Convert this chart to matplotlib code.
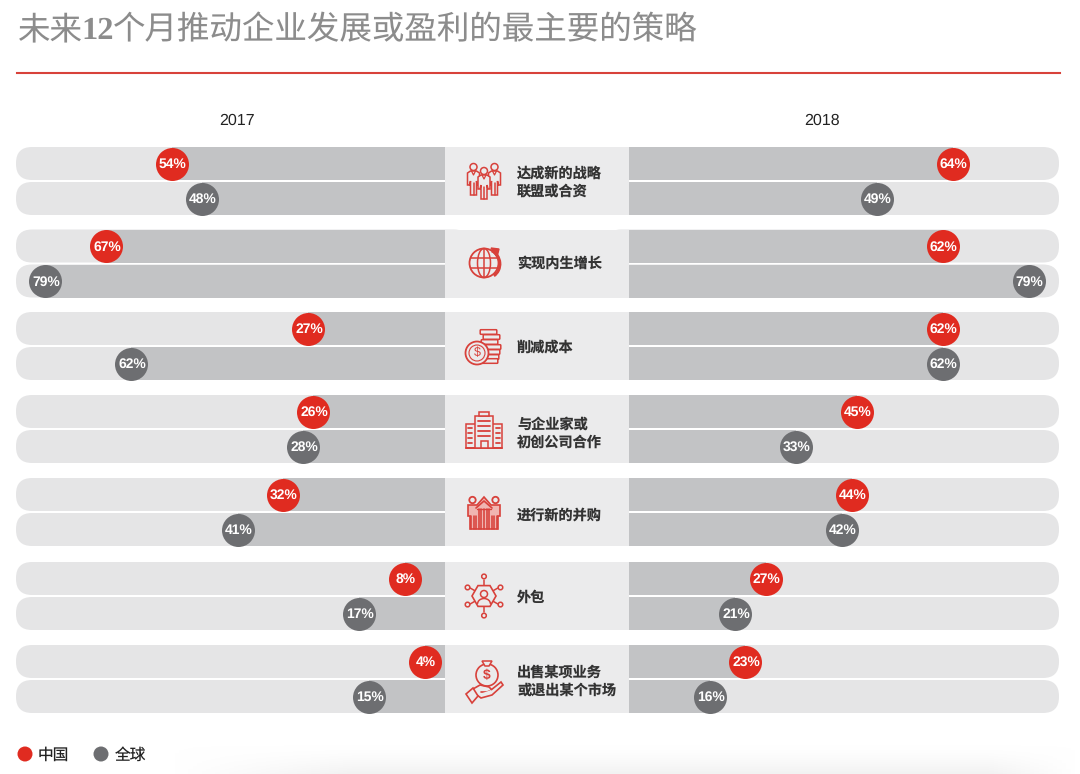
import numpy as np
import matplotlib
matplotlib.use('Agg')
import matplotlib.pyplot as plt
from matplotlib.patches import Circle, Ellipse, Arc, FancyBboxPatch, Polygon, Rectangle

plt.rcParams['font.family'] = ['Liberation Sans', 'Noto Sans CJK SC']
plt.rcParams['text.hinting'] = 'no_hinting'

# Dane
strategies = ['达成新的战略\n联盟或合资', '实现内生增长', '削减成本', '与企业家或\n初创公司合作',
              '进行新的并购', '外包', '出售某项业务\n或退出某个市场']
china_2017 = [54, 67, 27, 26, 32, 8, 4]
global_2017 = [48, 79, 62, 28, 41, 17, 15]
china_2018 = [64, 62, 62, 45, 44, 27, 23]
global_2018 = [49, 79, 62, 33, 42, 21, 16]

RED = '#e02b20'
GREY = '#6d6e71'
TRACK = '#e5e5e6'
BAR = '#c2c3c5'
PANEL = '#ebebec'
ICON = '#d8413b'
CJK = ['Noto Sans CJK SC']

W, H = 1080, 774
PX_PER_PCT = 5.06
group_tops = [147, 229.5, 312, 395, 478, 562, 645]
icon_y = [181, 263, 347, 431, 513, 596, 680]
label_y = [182.5, 263, 347.5, 433, 515.5, 597.5, 681]
ROW_H = 33
ROW_GAP = 2

fig = plt.figure(figsize=(W / 100, H / 100), dpi=100)
bg = fig.add_axes([0, 0, 1, 1])

# Lekki cien na dole obrazka
fade_x = np.clip(np.minimum(np.linspace(0, 1, 200) * 5, np.linspace(1, 0, 200) * 10), 0, 1)
fade_y = np.linspace(0, 1, 30)[:, None] ** 1.5
shade = np.ones((30, 200, 4)) * 0.95
shade[..., 3] = fade_y * fade_x
bg.imshow(shade, extent=(170, 1080, 774, 744), aspect='auto', zorder=0)

bg.set_xlim(0, W)
bg.set_ylim(H, 0)
bg.axis('off')

# Tytul i linia
title_kw = dict(fontsize=23.4, color='#8c8c8c', va='center', ha='left')
bg.text(18, 30, '未来', family=CJK, **title_kw)
bg.text(81, 31.5, '12', family=['Liberation Serif'], fontweight='bold', **title_kw)
bg.text(113, 30, '个月推动企业发展或盈利的最主要的策略', family=CJK, **title_kw)
bg.plot([17, 1060], [73, 73], color='#d8423a', lw=1.5)
bg.text(237, 120.5, '2017', fontsize=11.5, color='#222222', ha='center', va='center')
bg.text(822, 120.5, '2018', fontsize=11.5, color='#222222', ha='center', va='center')


def track(x0, x1, y):
    # zaokraglony pasek tla
    bg.add_patch(FancyBboxPatch((x0 + 16, y + 16), x1 - x0 - 32, ROW_H - 32,
                                boxstyle='round,pad=16,rounding_size=16', fc=TRACK, ec='none', zorder=1))


for i, top in enumerate(group_tops):
    for y in (top, top + ROW_H + ROW_GAP):
        track(16, 470, y)
        track(605, 1059, y)
    bg.add_patch(Rectangle((445, top), 184, 2 * ROW_H + ROW_GAP, fc=PANEL, ec='none', zorder=2))
    bg.text(517, label_y[i], strategies[i], fontsize=10.2, fontweight='bold', color='#333333',
            ha='left', va='center', linespacing=1.3, zorder=3, family=CJK)


def panel(left, right, xlim):
    ax = fig.add_axes([left / W, 0, (right - left) / W, 1])
    ax.set_xlim(*xlim)
    ax.set_ylim(H, 0)
    ax.axis('off')
    ax.patch.set_alpha(0)
    return ax


ax_l = panel(16, 445, (429 / PX_PER_PCT, 0))
ax_r = panel(629, 1059, (0, 430 / PX_PER_PCT))

tops = np.array(group_tops)
for ax, china, world in ((ax_l, china_2017, global_2017), (ax_r, china_2018, global_2018)):
    for vals, col, yy in ((china, RED, tops), (world, GREY, tops + ROW_H + ROW_GAP)):
        ax.barh(yy + ROW_H / 2, vals, height=ROW_H, color=BAR, zorder=1)
        ax.scatter(vals, yy + ROW_H / 2, s=(33 * 0.72) ** 2, color=col, linewidths=0, zorder=2, clip_on=False)
        for v, y in zip(vals, yy + ROW_H / 2):
            ax.annotate(f'{v}%', (v, y), xytext=(0.7, -0.7), textcoords='offset points', color='white',
                        fontsize=10, fontweight='bold', ha='center', va='center', zorder=3, annotation_clip=False)


# Ikony
def line(x, y, lw=1.1):
    bg.plot(x, y, color=ICON, lw=lw, zorder=4, solid_capstyle='round', solid_joinstyle='round')


def ring(x, y, r, lw=1.1, fc='none'):
    bg.add_patch(Circle((x, y), r, fc=fc, ec=ICON, lw=lw, zorder=4))


def person(cx, cy, s=1.0, fc=PANEL):
    ring(cx, cy - 13 * s, 3.5 * s, fc=fc)
    xs = np.array([-6, -3, 3, 6, 6, 4, 3, 3, 0, -3, -3, -4, -6, -6]) * s + cx
    ys = np.array([-7, -9, -9, -7, 5, 5, 1, 15, 15, 15, 1, 5, 5, -7]) * s + cy
    bg.add_patch(Polygon(np.c_[xs, ys], closed=True, fc=fc, ec=ICON, lw=1.1, zorder=4))
    line([cx, cx], [cy + 3 * s, cy + 15 * s])
    line([cx - 2, cx, cx + 2], [cy - 9 * s, cy - 5 * s, cy - 9 * s], lw=0.9)


def icon_people(cx, cy):
    person(cx - 10.5, cy - 1, 1.0)
    person(cx + 10.5, cy - 1, 1.0)
    person(cx, cy + 3, 1.0)


def icon_globe(cx, cy):
    ring(cx, cy, 14.5, lw=1.3)
    bg.add_patch(Ellipse((cx, cy), 13, 29, fc='none', ec=ICON, lw=1.1, zorder=4))
    for dy in (-5, 5):
        line([cx - 13.5, cx + 13.5], [cy + dy, cy + dy])
    line([cx, cx], [cy - 14, cy + 14])
    bg.add_patch(Arc((cx + 3, cy + 1), 26, 28, theta1=-70, theta2=60, ec=ICON, lw=2.0, zorder=5))
    bg.add_patch(Polygon([[cx + 7, cy - 15], [cx + 15, cy - 14], [cx + 13, cy - 6]], fc=ICON, ec=ICON, zorder=5))


def icon_coins(cx, cy):
    for dx, dy in [(5, -15), (8, -10), (6, -5), (9, 0), (8, 5), (7, 10), (6, 14)]:
        bg.add_patch(FancyBboxPatch((cx + dx - 8, cy + dy - 1.5), 15, 3,
                                    boxstyle='round,pad=0.8', fc=PANEL, ec=ICON, lw=1.1, zorder=4))
    ring(cx - 7, cy + 6, 11.5, lw=1.3, fc=PANEL)
    ring(cx - 7, cy + 6, 8, lw=0.8)
    bg.text(cx - 7, cy + 6, '$', color=ICON, fontsize=9, ha='center', va='center', zorder=5)


def icon_building(cx, cy):
    line([cx - 18, cx + 18], [cy + 17, cy + 17], lw=1.4)
    bg.add_patch(Rectangle((cx - 18, cy - 7), 36, 24, fc='none', ec=ICON, lw=1.1, zorder=4))
    bg.add_patch(Rectangle((cx - 9, cy - 15), 18, 32, fc=PANEL, ec=ICON, lw=1.1, zorder=4))
    bg.add_patch(Rectangle((cx - 5, cy - 19), 10, 4, fc=PANEL, ec=ICON, lw=1.1, zorder=4))
    for dy in (-10, -5, 0, 5):
        line([cx - 6, cx + 6], [cy + dy, cy + dy], lw=1.3)
    for dy in (-3, 2, 7, 12):
        line([cx - 16, cx - 12], [cy + dy, cy + dy], lw=1.3)
        line([cx + 12, cx + 16], [cy + dy, cy + dy], lw=1.3)
    bg.add_patch(Rectangle((cx - 3.5, cy + 10), 7, 7, fc=PANEL, ec=ICON, lw=1.1, zorder=4))


def icon_merger(cx, cy):
    for dx in (-11.5, 11.5):
        ring(cx + dx, cy - 13, 3.2, lw=1.3)
    bg.add_patch(Polygon([[cx - 16, cy - 8], [cx - 7, cy - 8], [cx, cy - 16], [cx + 7, cy - 8], [cx + 16, cy - 8],
                          [cx + 16, cy + 3], [cx + 14, cy + 3], [cx + 14, cy + 16], [cx - 14, cy + 16],
                          [cx - 14, cy + 3], [cx - 16, cy + 3]], fc='#f0b5b1', ec=ICON, lw=1.2, zorder=4))
    line([cx - 8, cx, cx + 8], [cy - 5, cy - 12, cy - 5], lw=1.2)
    for dx in np.arange(-13, 13.5, 2.6):
        line([cx + dx, cx + dx], [cy - 4 if abs(dx) < 7 else cy + 3, cy + 16], lw=1.15)
    line([cx - 7, cx + 7], [cy - 4, cy - 4], lw=1.0)


def icon_network(cx, cy):
    for a in np.arange(90, 450, 60):
        dx, dy = np.cos(np.radians(a)), -np.sin(np.radians(a))
        line([cx + dx * 9, cx + dx * 16], [cy + dy * 9, cy + dy * 16])
        ring(cx + dx * 19 * (1.03 if a in (90, 270) else 1), cy + dy * 19 * (1.03 if a in (90, 270) else 0.9), 2.3)
    hexa = [[cx + 12 * np.cos(np.radians(a)), cy + 12 * np.sin(np.radians(a))] for a in range(0, 360, 60)]
    bg.add_patch(Polygon(hexa, closed=True, fc=PANEL, ec=ICON, lw=1.2, zorder=4))
    ring(cx, cy - 2, 3.5)
    bg.add_patch(Arc((cx, cy + 8), 13, 11, theta1=180, theta2=360, ec=ICON, lw=1.1, zorder=5))


def icon_money(cx, cy):
    ring(cx + 3, cy - 5, 11, lw=1.2)
    bg.add_patch(Polygon([[cx - 2, cy - 19], [cx + 8, cy - 19], [cx + 5, cy - 14], [cx + 1, cy - 14]],
                         fc=PANEL, ec=ICON, lw=1.1, zorder=5))
    bg.text(cx + 3, cy - 5, '$', color=ICON, fontsize=10, fontweight='bold', ha='center', va='center', zorder=5)
    line([cx - 11, cx - 4, cx + 5, cx + 8, cx + 3, cx - 3], [cy + 9, cy + 5, cy + 7, cy + 10, cy + 12, cy + 12], lw=1.2)
    bg.add_patch(Polygon([[cx + 7, cy + 10], [cx + 17, cy + 2], [cx + 19, cy + 5], [cx + 8, cy + 15],
                          [cx - 3, cy + 18], [cx - 7, cy + 15]], closed=False, fc=PANEL, ec=ICON, lw=1.2, zorder=4))
    bg.add_patch(Polygon([[cx - 18, cy + 14], [cx - 11, cy + 8], [cx - 6, cy + 16], [cx - 12, cy + 23]],
                         closed=True, fc=PANEL, ec=ICON, lw=1.2, zorder=5))


for fn, y in zip((icon_people, icon_globe, icon_coins, icon_building, icon_merger, icon_network, icon_money), icon_y):
    fn(484, y)

# Legenda
bg.scatter([25, 101], [754, 754], s=[(15 * 0.72) ** 2] * 2, color=[RED, GREY], linewidths=0, zorder=4)
bg.text(37.5, 755, '中国', fontsize=11.3, color='#222222', va='center', ha='left', family=CJK)
bg.text(115, 755, '全球', fontsize=11.3, color='#222222', va='center', ha='left', family=CJK)

fig.savefig('out.png', dpi=100, facecolor='white')
